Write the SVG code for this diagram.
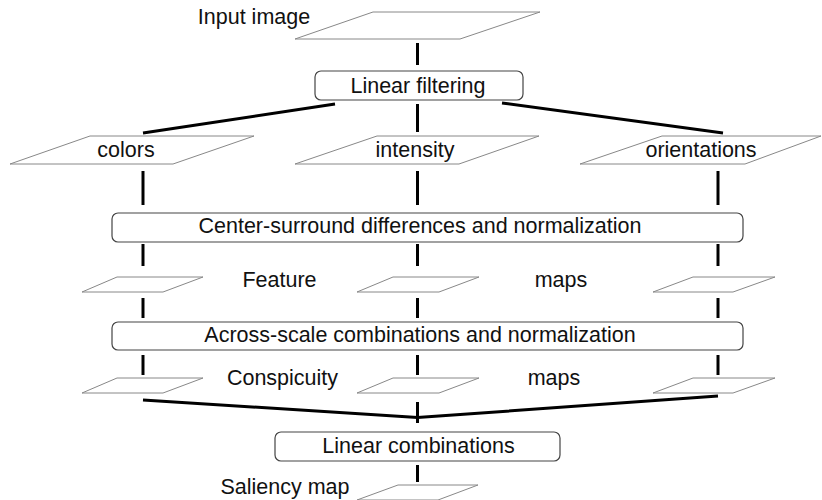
<svg xmlns="http://www.w3.org/2000/svg" width="822" height="500" viewBox="0 0 822 500">
<style>
  text { font-family: "Liberation Sans", Arial, sans-serif; font-size: 21.5px; fill: #111; text-anchor: middle; }
  .pg { fill: #fff; stroke: #888; stroke-width: 1; }
  .box { fill: #fff; stroke: #444; stroke-width: 1.2; }
  .c { stroke: #000; stroke-width: 3; fill: none; }
</style>
<rect width="822" height="500" fill="#fff"/>
<g id="connectors">
  <line class="c" x1="417.5" y1="43" x2="417.5" y2="65"/>
  <line class="c" x1="417.5" y1="104" x2="417.5" y2="132"/>
  <line class="c" x1="335" y1="104" x2="143" y2="133"/>
  <line class="c" x1="502" y1="103" x2="723" y2="133"/>
  <line class="c" x1="143" y1="171" x2="143" y2="205"/>
  <line class="c" x1="417.5" y1="171" x2="417.5" y2="205"/>
  <line class="c" x1="718" y1="171" x2="718" y2="205"/>
  <line class="c" x1="143" y1="244" x2="143" y2="266"/>
  <line class="c" x1="417.5" y1="244" x2="417.5" y2="266"/>
  <line class="c" x1="718" y1="244" x2="718" y2="266"/>
  <line class="c" x1="143" y1="298" x2="143" y2="318"/>
  <line class="c" x1="417.5" y1="298" x2="417.5" y2="318"/>
  <line class="c" x1="718" y1="298" x2="718" y2="318"/>
  <line class="c" x1="143" y1="355" x2="143" y2="375"/>
  <line class="c" x1="417.5" y1="355" x2="417.5" y2="375"/>
  <line class="c" x1="718" y1="355" x2="718" y2="375"/>
  <line class="c" x1="417.5" y1="402" x2="417.5" y2="423"/>
  <polyline class="c" points="143,400 417.5,417.5 718,396"/>
  <line class="c" x1="417.5" y1="465" x2="417.5" y2="482"/>
</g>
<g id="input-image">
  <polygon class="pg" points="373,12 540,12 460,39 295,39"/>
  <text x="254" y="24">Input image</text>
</g>
<g id="linear-filtering">
  <rect class="box" x="315" y="71" width="208" height="29" rx="6"/>
  <text x="418" y="93">Linear filtering</text>
</g>
<g id="colors">
  <polygon class="pg" points="90,136 254,136 173,164 10,164"/>
  <text x="126" y="157">colors</text>
</g>
<g id="intensity">
  <polygon class="pg" points="377,136 539,136 459,164 295,164"/>
  <text x="415" y="157">intensity</text>
</g>
<g id="orientations">
  <polygon class="pg" points="662,136 821,136 745,164 580,164"/>
  <text x="701" y="157">orientations</text>
</g>
<g id="center-surround">
  <rect class="box" x="112" y="213" width="631" height="29" rx="6"/>
  <text x="420" y="233">Center-surround differences and normalization</text>
</g>
<g id="feature-maps">
  <polygon class="pg" points="117,277 203,277 163,292 82,292"/>
  <polygon class="pg" points="393,277 479,277 439,292 357,292"/>
  <polygon class="pg" points="693,277 775,277 733,292 653,292"/>
  <text x="279.5" y="287">Feature</text>
  <text x="561" y="287">maps</text>
</g>
<g id="across-scale">
  <rect class="box" x="112" y="322" width="631" height="28" rx="6"/>
  <text x="420" y="342">Across-scale combinations and normalization</text>
</g>
<g id="conspicuity-maps">
  <polygon class="pg" points="117,378 203,378 163,393 82,393"/>
  <polygon class="pg" points="393,378 479,378 439,393 357,393"/>
  <polygon class="pg" points="693,378 775,378 733,393 653,393"/>
  <text x="282.5" y="385">Conspicuity</text>
  <text x="554" y="385">maps</text>
</g>
<g id="linear-combinations">
  <rect class="box" x="275" y="432" width="285" height="29" rx="6"/>
  <text x="418.5" y="453">Linear combinations</text>
</g>
<g id="saliency-map">
  <polygon class="pg" points="398,485 478,485 438,500 357,500"/>
  <text x="285" y="494">Saliency map</text>
</g>
</svg>
